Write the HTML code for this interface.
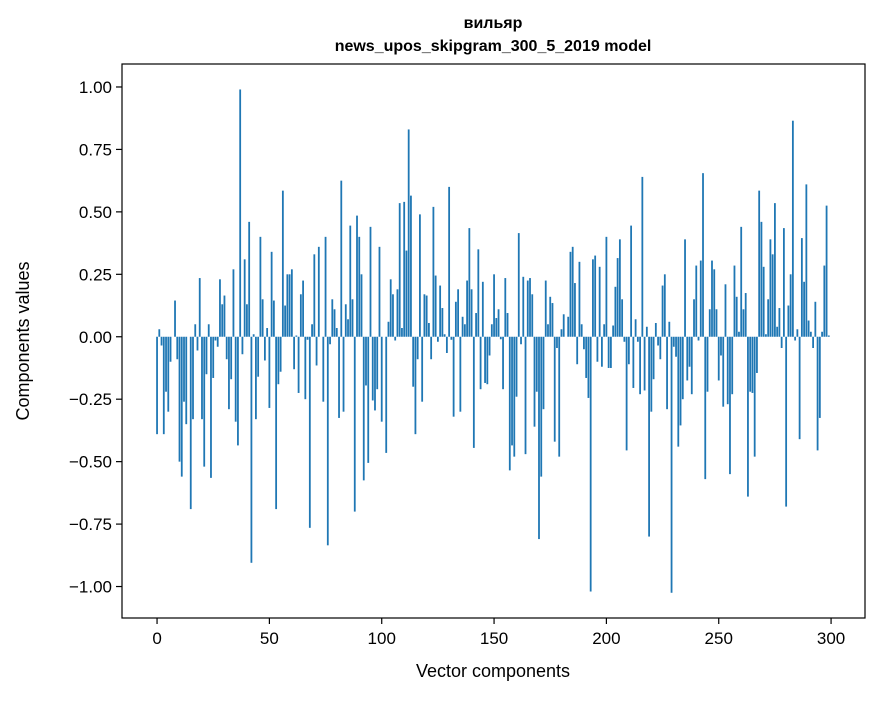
<!DOCTYPE html>
<html><head><meta charset="utf-8">
<style>
body{margin:0;background:#fff;width:880px;height:696px;overflow:hidden;}
svg text{font-family:"Liberation Sans","DejaVu Sans",sans-serif;fill:#000;}
</style></head>
<body>
<svg id="chart" width="880" height="696" xmlns="http://www.w3.org/2000/svg">
<g id="title">
<text x="493" y="28" text-anchor="middle" font-size="16" font-weight="bold">вильяр</text>
<text x="493" y="51" text-anchor="middle" font-size="16" font-weight="bold">news_upos_skipgram_300_5_2019 model</text>
</g>
<g id="bars"></g>
<rect x="122" y="64" width="743" height="554" fill="none" stroke="#000" stroke-width="1.2"/>
<g id="xaxis"></g>
<g id="yaxis"></g>
<text x="493" y="677" text-anchor="middle" font-size="18">Vector components</text>
<text transform="translate(29,341) rotate(-90)" text-anchor="middle" font-size="18">Components values</text>
</svg>
<script>
const values = [
-0.39,0.03,-0.035,-0.39,-0.22,-0.30,-0.10,0.0,0.145,-0.09,-0.50,-0.56,-0.26,-0.35,0.0,-0.69,-0.33,0.05,-0.055,0.235,-0.33,-0.52,-0.15,0.05,-0.565,-0.165,-0.015,-0.04,0.23,0.13,0.165,-0.09,-0.29,-0.17,0.27,-0.34,-0.435,0.99,-0.07,0.31,0.13,0.46,-0.905,0.01,-0.33,-0.16,0.40,0.15,-0.095,0.035,-0.285,
0.34,0.145,-0.69,-0.19,-0.14,0.585,0.125,0.25,0.25,0.27,-0.13,0.005,-0.225,0.17,0.225,-0.25,-0.012,-0.765,0.05,0.33,-0.115,0.36,0.0,-0.26,0.40,-0.835,-0.03,0.15,0.11,0.035,-0.325,0.625,-0.30,0.13,0.07,0.445,0.15,-0.70,0.485,0.40,0.25,-0.575,-0.195,-0.505,0.44,-0.255,-0.295,-0.21,0.36,-0.34,
0.0,-0.465,0.06,0.23,0.17,-0.015,0.19,0.535,0.035,0.54,0.345,0.83,0.565,-0.20,-0.39,-0.09,0.49,-0.26,0.17,0.165,0.055,-0.09,0.52,0.245,-0.02,0.205,0.115,0.01,-0.065,0.60,-0.012,-0.32,0.14,0.19,-0.30,0.08,0.05,0.225,0.435,0.19,-0.445,0.095,0.35,-0.21,0.22,-0.185,-0.19,-0.075,0.05,
0.25,0.075,0.11,-0.01,-0.21,0.235,0.095,-0.535,-0.435,-0.48,-0.24,0.415,-0.03,0.24,-0.47,0.225,0.235,0.17,-0.36,-0.22,-0.81,-0.56,-0.29,0.225,0.05,0.16,0.135,-0.42,-0.045,-0.48,0.03,0.09,0.0,0.08,0.34,0.36,0.215,-0.11,0.30,0.05,-0.05,-0.165,-0.245,-1.02,0.31,0.325,-0.10,0.28,-0.12,0.05,
0.40,-0.125,-0.125,0.045,0.20,0.315,0.39,0.15,-0.02,-0.455,-0.11,0.445,-0.205,0.07,-0.02,-0.23,0.64,-0.215,0.04,-0.80,-0.30,-0.17,0.055,-0.035,-0.09,0.205,0.25,-0.29,0.06,-1.025,-0.04,-0.08,-0.44,-0.355,-0.25,0.39,-0.175,-0.12,-0.23,0.15,0.285,-0.015,0.305,0.655,-0.57,-0.22,0.11,0.305,0.27,0.11,
-0.175,-0.075,-0.28,0.21,-0.27,-0.55,-0.23,0.285,0.16,0.02,0.44,0.11,0.175,-0.64,-0.22,-0.225,-0.48,-0.145,0.585,0.46,0.28,0.01,0.15,0.39,0.33,0.535,0.04,0.115,-0.045,0.435,-0.68,0.125,0.25,0.865,-0.015,0.03,-0.41,0.395,0.22,0.61,0.065,0.02,-0.045,0.14,-0.455,-0.325,0.02,0.285,0.525,0.005
];
const xTicks = [0,50,100,150,200,250,300];
const yTicks = [-1.00,-0.75,-0.50,-0.25,0.00,0.25,0.50,0.75,1.00];
const yTickLabels = ["\u22121.00","\u22120.75","\u22120.50","\u22120.25","0.00","0.25","0.50","0.75","1.00"];

const NS="http://www.w3.org/2000/svg";
const X0=122,X1=865,Y0=64,Y1=618;
const xMin=-15.6,xMax=315.1,yMin=-1.126,yMax=1.092;
const xs=v=>X0+(v-xMin)/(xMax-xMin)*(X1-X0);
const ys=v=>Y1-(v-yMin)/(yMax-yMin)*(Y1-Y0);
const bars=document.getElementById('bars');
values.forEach((v,i)=>{
  const r=document.createElementNS(NS,'rect');
  const a=xs(i-0.4),b=xs(i+0.4);
  const top=Math.min(ys(v),ys(0)),h=Math.abs(ys(v)-ys(0));
  r.setAttribute('x',a);r.setAttribute('width',b-a);
  r.setAttribute('y',top);r.setAttribute('height',Math.max(h,0.01));
  r.setAttribute('fill','#1f77b4');
  
  
  bars.appendChild(r);
});
const xa=document.getElementById('xaxis');
xTicks.forEach(t=>{
  const l=document.createElementNS(NS,'line');
  l.setAttribute('x1',xs(t));l.setAttribute('x2',xs(t));
  l.setAttribute('y1',Y1);l.setAttribute('y2',Y1+6);
  l.setAttribute('stroke','#000');l.setAttribute('stroke-width','1.2');
  
  
  xa.appendChild(l);
  const tx=document.createElementNS(NS,'text');
  tx.setAttribute('x',xs(t));tx.setAttribute('y',Y1+26);
  tx.setAttribute('text-anchor','middle');tx.setAttribute('font-size','17');
  tx.textContent=String(t);
  
  
  xa.appendChild(tx);
});
const ya=document.getElementById('yaxis');
yTicks.forEach((t,k)=>{
  const l=document.createElementNS(NS,'line');
  l.setAttribute('x1',X0-6);l.setAttribute('x2',X0);
  l.setAttribute('y1',ys(t));l.setAttribute('y2',ys(t));
  l.setAttribute('stroke','#000');l.setAttribute('stroke-width','1.2');
  
  
  ya.appendChild(l);
  const tx=document.createElementNS(NS,'text');
  tx.setAttribute('x',X0-10);tx.setAttribute('y',ys(t)+6);
  tx.setAttribute('text-anchor','end');tx.setAttribute('font-size','17');
  tx.textContent=yTickLabels[k];
  
  
  ya.appendChild(tx);
});
</script>
</body></html>
